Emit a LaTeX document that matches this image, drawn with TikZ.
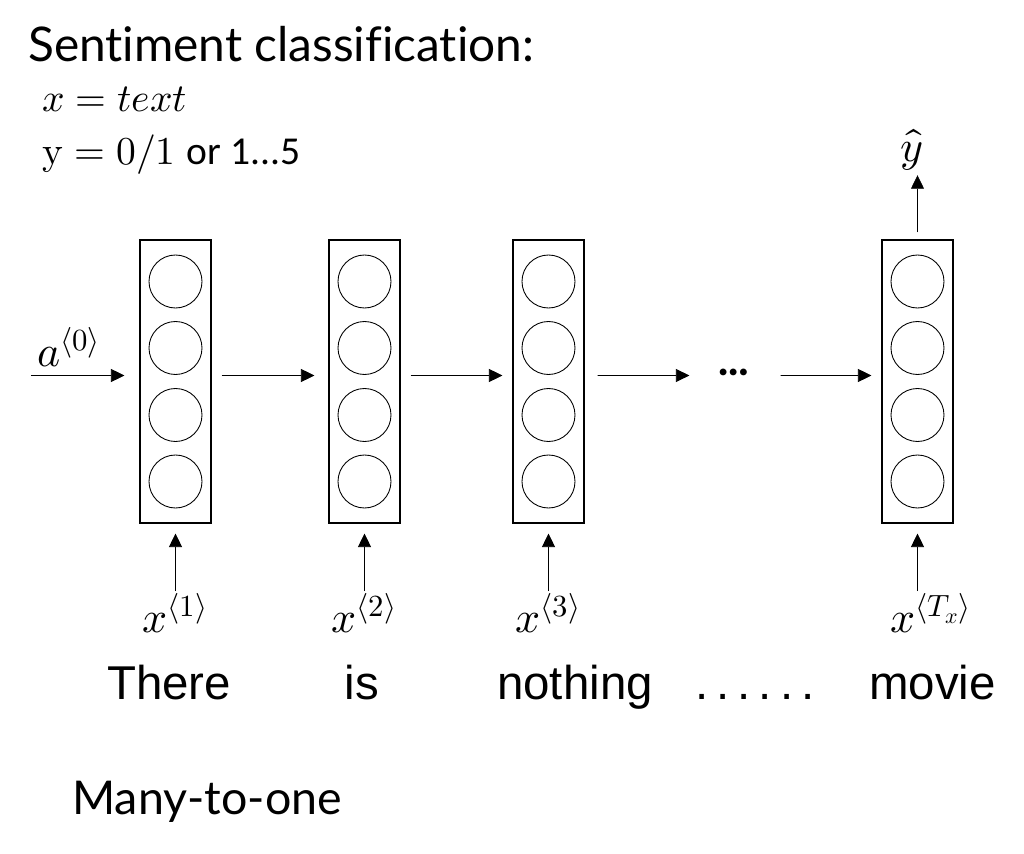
\documentclass[tikz,border=0pt]{standalone}
\usepackage{amsmath}
\usepackage{fontspec}
\usepackage{unicode-math}
\usetikzlibrary{arrows.meta, positioning, calc}
\setmainfont{Liberation Sans}
\setmathfont{Latin Modern Math}
\newfontfamily\titlefont[Ligatures=NoCommon]{Lato}
\newfontfamily\calfont{Carlito}
\definecolor{mydark}{RGB}{0,0,0}
\tikzset{
  cell/.style={rectangle, draw=mydark, minimum width=1.42cm,
    minimum height=5.66cm, inner sep=0pt, line width=0.6pt},
  unit/.style={circle, draw=mydark, minimum size=1.06cm,
    inner sep=0pt, line width=0.5pt},
  arrow/.style={-{Triangle[length=0.27cm, width=0.26cm]},
    line width=0.4pt, color=mydark},
  word/.style={font=\fontsize{27}{32}\selectfont, anchor=base},
  lbl/.style={font=\fontsize{25}{30}\selectfont, inner sep=1pt}
}

\begin{document}
\begin{tikzpicture}
  \useasboundingbox (0,0) rectangle (20.48,17.08);

  % ── Heading and notes ─────────────────────────────────────────────────────
  \node[anchor=base west, inner sep=0pt, font=\titlefont\fontsize{27.2}{32}\selectfont]
       (title) at (0.56, 15.84) {Sentiment classification:};
  \node[anchor=base west, inner sep=0pt, font=\fontsize{22.5}{26}\selectfont]
       (xdef) at (0.84, 14.84) {$x = text$};
  \node[anchor=base west, inner sep=0pt, font=\fontsize{22.5}{26}\selectfont]
       (ydef) at (0.84, 13.78) {$\symup{y} = 0/1$ {\calfont or 1...5}};

  % ── RNN cells ─────────────────────────────────────────────────────────────
  \node[cell] (b1) at (3.51,  9.45) {};
  \node[cell] (b2) at (7.29,  9.45) {};
  \node[cell] (b3) at (10.97, 9.45) {};
  \node[cell] (b4) at (18.35, 9.45) {};

  % hidden units, four per cell
  \foreach \b in {b1,b2,b3,b4}
    \foreach \dy/\i in {2.0/1, 0.67/2, -0.67/3, -2.0/4}
      \node[unit] (\b u\i) at ([yshift=\dy cm]\b.center) {};

  \node[anchor=base, inner sep=0pt, font=\calfont\bfseries\fontsize{26}{30}\selectfont]
       (dots) at (14.68, 9.57) {…};

  % ── Activations ───────────────────────────────────────────────────────────
  \node[lbl] (a0) at (1.38, 10.14) {$a^{\langle 0\rangle}$};
  \coordinate (a0in) at (0.62, 9.57);
  \draw[arrow, shorten >=0.3cm] (a0in) -- (a0in -| b1.west);
  \draw[arrow, shorten <=0.2cm, shorten >=0.28cm]
       ([yshift=0.12cm]b1.east) -- ([yshift=0.12cm]b2.west);
  \draw[arrow, shorten <=0.2cm, shorten >=0.2cm]
       ([yshift=0.12cm]b2.east) -- ([yshift=0.12cm]b3.west);
  \draw[arrow, shorten <=0.26cm, shorten >=0.56cm]
       ([yshift=0.12cm]b3.east) -- (dots.base west);
  \draw[arrow, shorten <=0.6cm, shorten >=0.2cm]
       (dots.base east) -- ([yshift=0.12cm]b4.west);

  % ── Output ────────────────────────────────────────────────────────────────
  \node[lbl] (yhat) at (18.24, 14.08) {$\hat{y}$};
  \draw[arrow, shorten <=0.14cm, shorten >=0.05cm] (b4.north) -- (b4.north |- yhat.south);

  % ── Inputs ────────────────────────────────────────────────────────────────
  \node[lbl] (x1) at (3.51,  4.82) {$x^{\langle 1\rangle}$};
  \node[lbl] (x2) at (7.29,  4.82) {$x^{\langle 2\rangle}$};
  \node[lbl] (x3) at (10.97, 4.82) {$x^{\langle 3\rangle}$};
  \node[lbl] (xT) at (18.62, 4.82) {$x^{\langle T_x\rangle}$};
  \foreach \x/\b in {x1/b1, x2/b2, x3/b3, xT/b4}
    \draw[arrow, shorten >=0.2cm] (\b.south |- \x.north) -- (\b.south);

  % ── Words ─────────────────────────────────────────────────────────────────
  \node[word] (w1) at (3.38,  3.08) {There};
  \node[word] (w2) at (7.24,  3.08) {is};
  \node[word] (w3) at (11.5,  3.08) {nothing};
  \node[word] (w4) at (15.1,  3.08) {.\,.\,.\,.\,.\,.};
  \node[word] (w5) at (18.65, 3.08) {movie};

  % ── Caption ───────────────────────────────────────────────────────────────
  \node[anchor=base west, inner sep=0pt, font=\titlefont\fontsize{26.5}{30}\selectfont]
       (cap) at (1.44, 0.78) {Many-to-one};

\end{tikzpicture}
\end{document}
